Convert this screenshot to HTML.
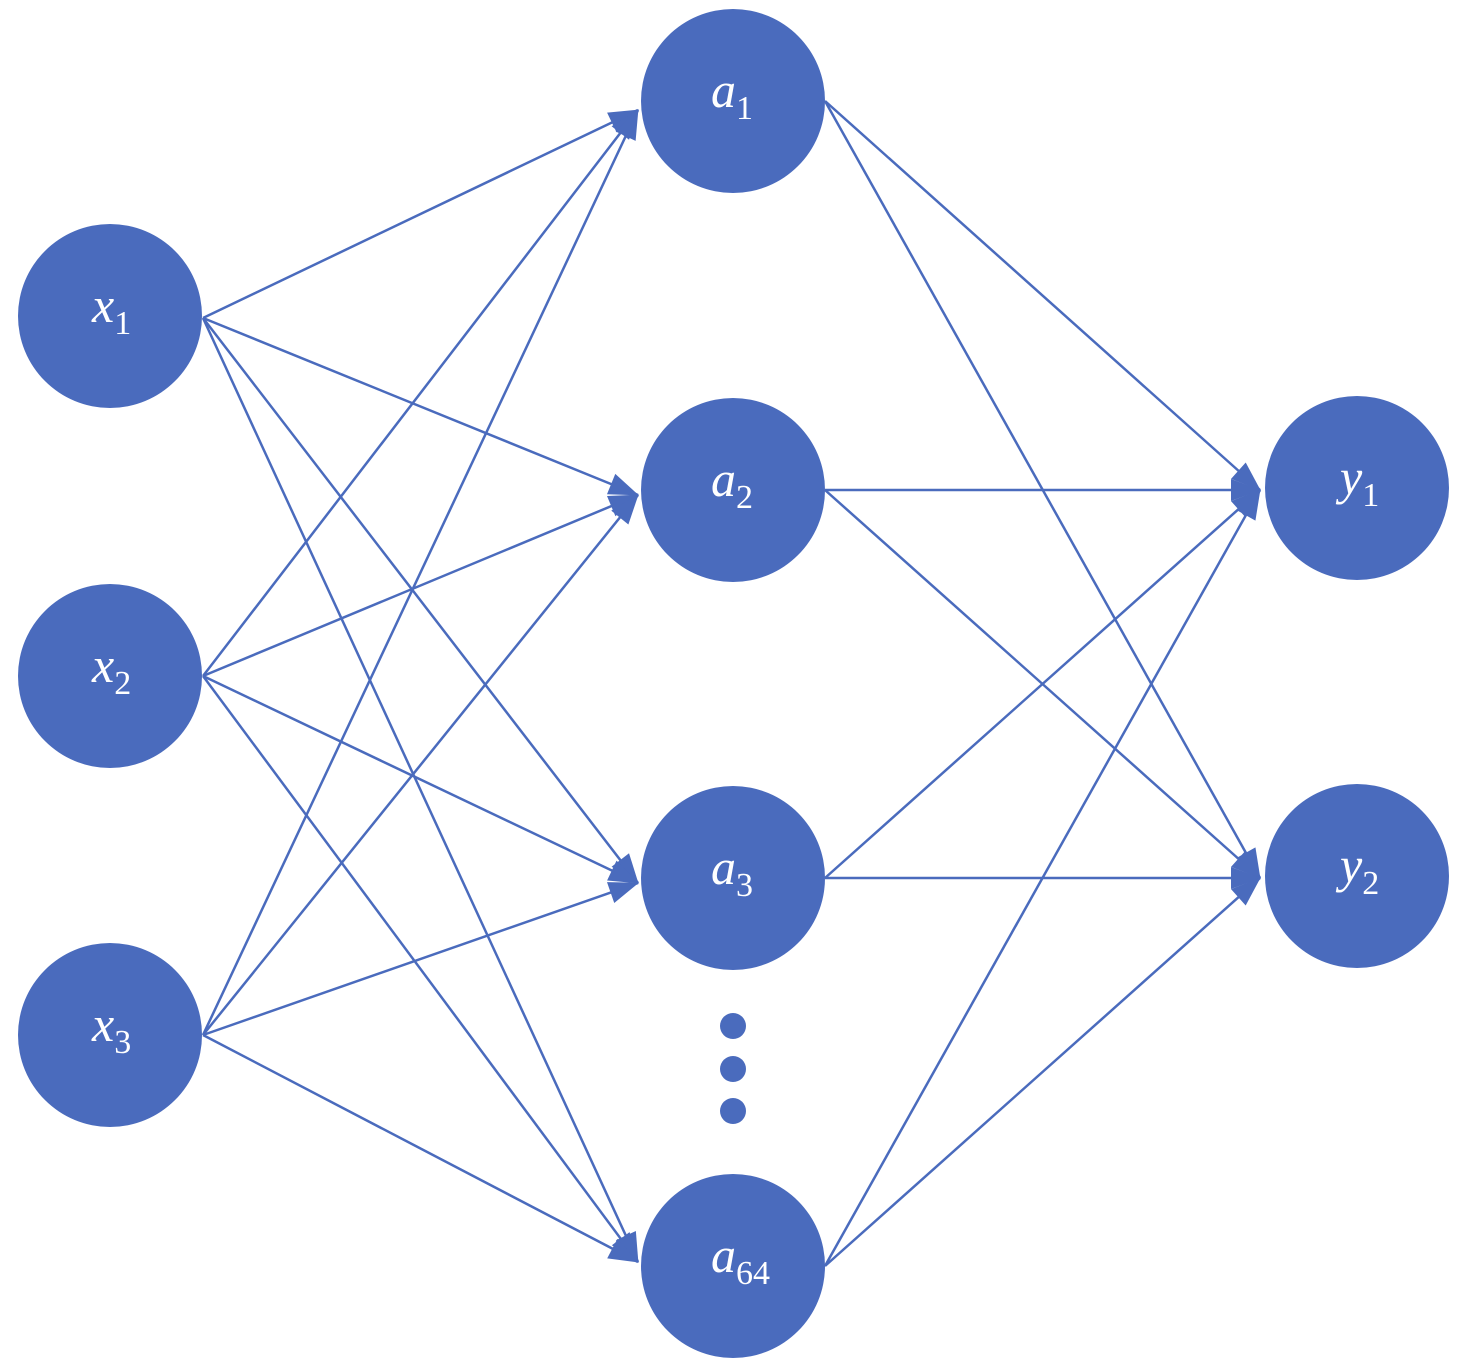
<!DOCTYPE html>
<html><head><meta charset="utf-8"><style>
html,body{margin:0;padding:0;background:#fff;}
text{font-family:"Liberation Serif",serif;}
</style></head><body>
<svg width="1476" height="1363" viewBox="0 0 1476 1363" xmlns="http://www.w3.org/2000/svg">
<defs>
<marker id="ar" viewBox="0 0 10 10" refX="9" refY="5" markerWidth="10" markerHeight="10" markerUnits="userSpaceOnUse" orient="auto" style="overflow:visible">
<path d="M0,-6 L30,5 L0,16 Z" fill="#4a6bbd" transform="translate(-20,0)"/>
</marker>
</defs>
<g stroke="#4a6bbd" stroke-width="2.5" fill="none">
<g marker-end="url(#ar)">
<line x1="203" y1="318" x2="638" y2="110"/>
<line x1="203" y1="318" x2="638" y2="495"/>
<line x1="203" y1="318" x2="638" y2="883"/>
<line x1="203" y1="318" x2="638" y2="1262"/>
<line x1="203" y1="676" x2="638" y2="110"/>
<line x1="203" y1="676" x2="638" y2="495"/>
<line x1="203" y1="676" x2="638" y2="883"/>
<line x1="203" y1="676" x2="638" y2="1262"/>
<line x1="203" y1="1035" x2="638" y2="110"/>
<line x1="203" y1="1035" x2="638" y2="495"/>
<line x1="203" y1="1035" x2="638" y2="883"/>
<line x1="203" y1="1035" x2="638" y2="1262"/>
<line x1="825" y1="101" x2="1260" y2="490"/>
<line x1="825" y1="101" x2="1260" y2="878"/>
<line x1="825" y1="490" x2="1260" y2="490"/>
<line x1="825" y1="490" x2="1260" y2="878"/>
<line x1="825" y1="878" x2="1260" y2="490"/>
<line x1="825" y1="878" x2="1260" y2="878"/>
<line x1="825" y1="1266" x2="1260" y2="490"/>
<line x1="825" y1="1266" x2="1260" y2="878"/>
</g>
</g>
<g fill="#4a6bbd">
<circle cx="110" cy="316" r="92"/>
<circle cx="110" cy="676" r="92"/>
<circle cx="110" cy="1035" r="92"/>
<circle cx="733" cy="101" r="92"/>
<circle cx="733" cy="490" r="92"/>
<circle cx="733" cy="878" r="92"/>
<circle cx="733" cy="1266" r="92"/>
<circle cx="1357" cy="488" r="92"/>
<circle cx="1357" cy="876" r="92"/>
<circle cx="733" cy="1026" r="13"/>
<circle cx="733" cy="1069" r="13"/>
<circle cx="733" cy="1111" r="13"/>
</g>
<g fill="#fff">
<text x="92" y="322" font-size="50" font-style="italic">x<tspan font-size="34" font-style="normal" dy="12">1</tspan></text>
<text x="92" y="682" font-size="50" font-style="italic">x<tspan font-size="34" font-style="normal" dy="12">2</tspan></text>
<text x="92" y="1041" font-size="50" font-style="italic">x<tspan font-size="34" font-style="normal" dy="12">3</tspan></text>
<text x="711" y="107" font-size="50" font-style="italic">a<tspan font-size="34" font-style="normal" dy="12">1</tspan></text>
<text x="711" y="496" font-size="50" font-style="italic">a<tspan font-size="34" font-style="normal" dy="12">2</tspan></text>
<text x="711" y="884" font-size="50" font-style="italic">a<tspan font-size="34" font-style="normal" dy="12">3</tspan></text>
<text x="711" y="1272" font-size="50" font-style="italic">a<tspan font-size="34" font-style="normal" dy="12">64</tspan></text>
<text x="1340" y="494" font-size="50" font-style="italic">y<tspan font-size="34" font-style="normal" dy="12">1</tspan></text>
<text x="1340" y="882" font-size="50" font-style="italic">y<tspan font-size="34" font-style="normal" dy="12">2</tspan></text>
</g>
</svg>
</body></html>
